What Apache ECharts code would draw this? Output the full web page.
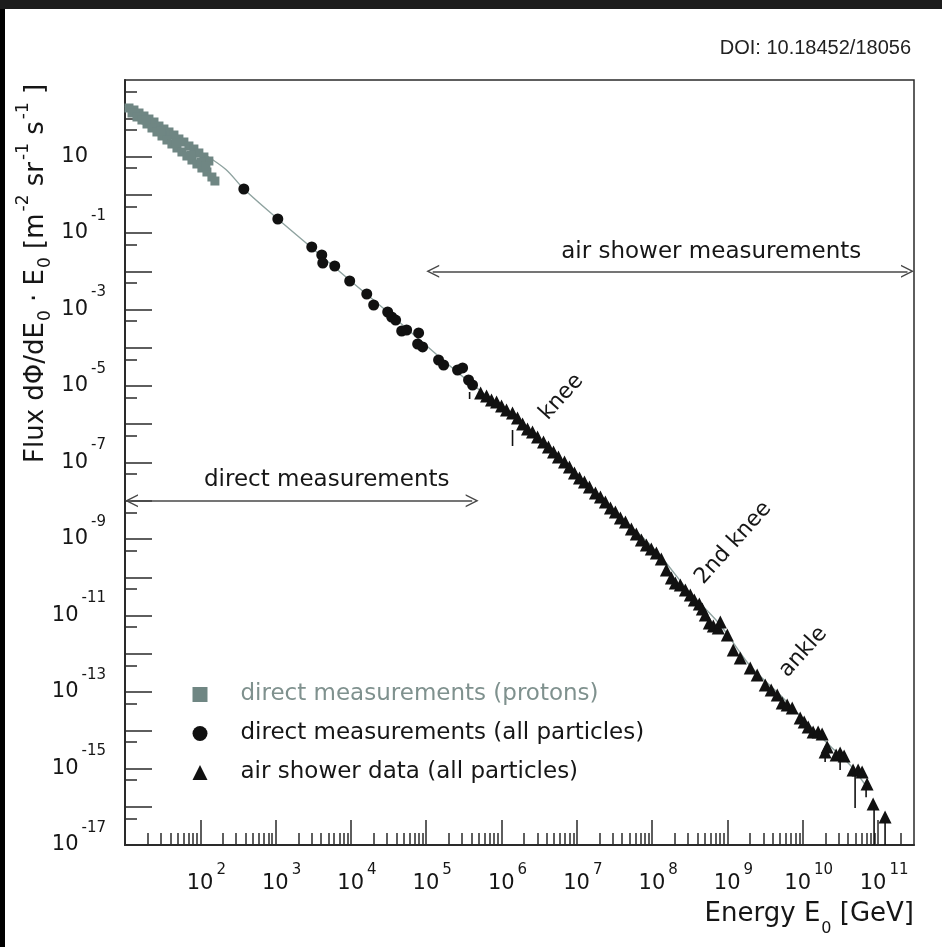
<!DOCTYPE html>
<html><head><meta charset="utf-8">
<script src="https://cdn.jsdelivr.net/npm/echarts@6/dist/echarts.min.js"></script>
<style>
html,body{margin:0;padding:0;background:#fff;}
#chart{width:942px;height:947px;}
#barL{position:absolute;left:0;top:0;width:5px;height:947px;background:#000;}
#barT{position:absolute;left:0;top:0;width:942px;height:9px;background:#1c1c1c;}
</style></head>
<body>
<div id="chart"></div><div id="barL"></div><div id="barT"></div>
<script>
// ---- values (log10 of energy in GeV, log10 of flux) ----
const protonLogE = [1.053,1.119,1.186,1.252,1.318,1.385,1.451,1.517,1.584,1.650,1.716,1.782,1.849,1.915,1.981,2.048,2.114,
  1.093,1.159,1.225,1.292,1.358,1.424,1.491,1.557,1.623,1.690,1.756,1.822,1.889,1.955,2.021,2.088,2.154,2.194,
  1.279,1.477,1.676,1.875,2.008,2.074];
const protonLogFlux = [2.268,2.216,2.137,2.059,1.980,1.902,1.797,1.719,1.641,1.562,1.458,1.379,1.275,1.196,1.092,0.987,0.882,
  2.137,2.033,1.954,1.850,1.745,1.641,1.536,1.431,1.327,1.222,1.118,1.013,0.908,0.804,0.699,0.595,0.464,0.359,
  1.954,1.667,1.353,1.039,0.856,0.752];

const directLogE = [2.578,3.029,3.480,3.613,3.626,3.785,3.984,4.210,4.302,4.488,4.541,4.594,4.674,4.740,4.899,4.886,4.952,5.164,5.231,5.416,5.483,5.562,5.615];
const directLogFlux = [0.150,-0.634,-1.366,-1.575,-1.784,-1.863,-2.255,-2.595,-2.882,-3.065,-3.196,-3.275,-3.562,-3.536,-3.614,-3.902,-3.980,-4.320,-4.451,-4.582,-4.529,-4.843,-4.974];

const showerLogE = [5.722,5.801,5.867,5.934,6.000,6.066,6.146,6.212,6.279,6.345,6.411,6.478,6.557,6.623,6.690,6.756,6.836,6.902,6.968,7.035,7.101,7.167,7.247,7.313,7.379,7.446,7.512,7.578,7.645,7.724,7.790,7.857,7.923,7.989,8.056,8.122,
  8.189,8.255,8.308,8.374,8.441,8.507,8.560,8.626,8.666,8.706,8.759,8.812,8.878,8.905,8.998,9.077,9.170,9.303,9.395,9.502,9.581,9.661,9.727,9.793,9.860,9.966,10.019,10.072,10.138,10.204,10.257,10.324,10.297,10.443,10.496,10.549,10.668,10.735,10.788,10.854,10.934,11.093];
const showerLogFlux = [-5.183,-5.261,-5.366,-5.418,-5.523,-5.627,-5.706,-5.837,-5.994,-6.124,-6.203,-6.333,-6.464,-6.595,-6.726,-6.856,-6.987,-7.118,-7.275,-7.405,-7.510,-7.641,-7.797,-7.902,-8.033,-8.190,-8.294,-8.451,-8.556,-8.739,-8.869,-9.026,-9.157,-9.261,-9.366,-9.523,
  -9.810,-10.020,-10.150,-10.203,-10.333,-10.464,-10.595,-10.699,-10.830,-10.987,-11.196,-11.275,-11.327,-11.170,-11.510,-11.902,-12.111,-12.373,-12.556,-12.817,-12.948,-13.079,-13.288,-13.340,-13.418,-13.680,-13.784,-13.915,-14.046,-14.046,-14.098,-14.438,-14.569,-14.647,-14.595,-14.673,-15.039,-15.039,-15.092,-15.405,-15.928,-16.268];

const modelLogE = [1.0,1.345,1.676,2.008,2.340,2.578,3.029,3.467,3.997,4.488,5.191,5.589,6.080,6.557,6.782,7.313,7.843,8.109,8.507,8.905,9.302,9.700,9.966,10.363,10.629,10.841];
const modelLogFlux = [2.31,1.928,1.536,1.118,0.660,0.150,-0.634,-1.366,-2.255,-3.065,-4.268,-4.922,-5.680,-6.516,-6.935,-7.980,-8.895,-9.445,-10.412,-11.248,-12.320,-13.079,-13.628,-14.412,-14.909,-15.458];

const errLogE = [5.576,6.146,10.297,10.496,10.695,10.841,10.947,11.093];
const errLogLow = [-5.340,-6.569,-14.830,-15.039,-16.033,-15.750,-17,-17];
const errLogHigh = [-5.157,-6.150,-14.569,-14.647,-15.039,-15.500,-15.954,-16.268];

const seriesNames = ['direct measurements (protons)','direct measurements (all particles)','air shower data (all particles)'];
const xLabelExp = [2,3,4,5,6,7,8,9,10,11];
const xMajorExp = [2,3,4,5,6,7,8,9,10,11];
const xMinorExp = [1,2,3,4,5,6,7,8,9,10,11];
const xMinorMult = [2,3,4,5,6,7,8,9];
const yLabelExp = [-17,-15,-13,-11,-9,-7,-5,-3,-1,1];
const yMajorExp = [-16,-15,-14,-13,-12,-11,-10,-9,-8,-7,-6,-5,-4,-3,-2,-1,0,1,2];
const yMinorExp = [-17,-16,-15,-14,-13,-12,-11,-10,-9,-8,-7,-6,-5,-4,-3,-2,-1,0,1,2];
const yMinorMult = [5];

// ---- build ----
const pw = (n) => Number('1e' + n);
const p10 = (e) => Math.pow(10, e);
const toPts = (xs, ys) => xs.map((e, i) => [p10(e), p10(ys[i])]);
const xMax = 3e11;
const xMajor = xMajorExp.map(pw);
const xLabels = xLabelExp.map(pw);
const xMinor = [];
xMinorExp.forEach(n => xMinorMult.forEach(m => { const v = Number(m + 'e' + n); if (v < 2.9e11) xMinor.push(v); }));
const yMajor = yMajorExp.map(pw);
const yLabels = yLabelExp.map(pw);
const yMinor = [];
yMinorExp.forEach(n => yMinorMult.forEach(m => yMinor.push(Number(m + 'e' + n))));
const errData = errLogE.map((e, i) => [p10(e), p10(errLogLow[i]), p10(errLogHigh[i])]);

const FONT = 'DejaVu Sans';
const AX = '#2a2a2a';
const TXT = '#161616';
const GRAYTEAL = '#6f8683';
const CHEV = 'path://M0,100 L50,0 L100,100 L88,100 L50,24 L12,100 Z';

const expOf = v => Math.round(Math.log10(v));
const xRich = {
  b: {fontSize: 21, fontFamily: FONT, color: TXT, lineHeight: 22, padding: [0, 0, 0, 12]},
  e: {fontSize: 15, fontFamily: FONT, color: TXT, lineHeight: 15, padding: [0, 0, 28, 3]}
};
const yRich = {
  b: {fontSize: 21, fontFamily: FONT, color: TXT, lineHeight: 22},
  e: {fontSize: 15, fontFamily: FONT, color: TXT, lineHeight: 15, padding: [0, 0, 34, 3]},
  h: {fontSize: 15, fontFamily: FONT, color: 'rgba(0,0,0,0)', lineHeight: 15, padding: [0, 0, 34, 3]}
};

const baseX = {type: 'log', logBase: 10, min: 10, max: xMax, position: 'bottom', gridIndex: 0,
  splitLine: {show: false}, minorTick: {show: false}, minorSplitLine: {show: false}};
const baseY = {type: 'log', logBase: 10, min: 1e-17, max: 1e3, position: 'left', gridIndex: 0,
  splitLine: {show: false}, minorTick: {show: false}, minorSplitLine: {show: false}};

const chart = echarts.init(document.getElementById('chart'), null, {renderer: 'canvas'});
chart.setOption({
  animation: false,
  backgroundColor: '#ffffff',
  textStyle: {fontFamily: FONT},
  title: {text: 'DOI: 10.18452/18056', right: 31, top: 38, padding: 0,
    textStyle: {fontFamily: 'Liberation Sans', fontSize: 20, fontWeight: 'normal', color: '#222'}},
  grid: {left: 125, right: 28, top: 80, bottom: 102, show: true, borderColor: AX, borderWidth: 1.5, backgroundColor: 'transparent'},
  legend: {
    orient: 'vertical', left: 187.5, top: 678, itemWidth: 15, itemHeight: 15, itemGap: 16,
    selectedMode: false,
    textStyle: {fontSize: 23, fontFamily: FONT, color: TXT, padding: [0, 0, 0, 28]},
    data: [
      {name: seriesNames[0], icon: 'rect', itemStyle: {color: GRAYTEAL, opacity: 1}, textStyle: {color: '#7f918e'}},
      {name: seriesNames[1], icon: 'circle', itemStyle: {color: '#111', opacity: 1}},
      {name: seriesNames[2], icon: 'triangle', itemStyle: {color: '#111', opacity: 1}}
    ]
  },
  xAxis: [
    Object.assign({}, baseX, {
      axisLine: {show: true, onZero: false, lineStyle: {color: AX, width: 2}},
      axisTick: {show: true, inside: true, length: 25, customValues: xMajor, lineStyle: {color: AX, width: 1.5}},
      axisLabel: {show: true, customValues: xLabels, margin: 28, formatter: v => '{b|10}{e|' + expOf(v) + '}', rich: xRich}
    }),
    Object.assign({}, baseX, {
      axisLine: {show: false},
      axisTick: {show: true, inside: true, length: 12, customValues: xMinor, lineStyle: {color: AX, width: 1.5}},
      axisLabel: {show: false}
    })
  ],
  yAxis: [
    Object.assign({}, baseY, {
      axisLine: {show: true, onZero: false, lineStyle: {color: AX, width: 2}},
      axisTick: {show: true, inside: true, length: 27, customValues: yMajor, lineStyle: {color: AX, width: 1.5}},
      axisLabel: {show: true, customValues: yLabels, margin: 19,
        formatter: v => { const n = expOf(v); return n === 1 ? '{b|10}{h|-1}' : '{b|10}{e|' + n + '}'; }, rich: yRich}
    }),
    Object.assign({}, baseY, {
      axisLine: {show: false},
      axisTick: {show: true, inside: true, length: 12, customValues: yMinor, lineStyle: {color: AX, width: 1.5}},
      axisLabel: {show: false}
    })
  ],
  graphic: [
    {type: 'text', x: 36, y: 463, rotation: Math.PI / 2, silent: true,
      style: {
        text: '{a|Flux d\u03A6/dE}{s|0}{a| \u00B7 E}{s|0}{a| [m}{u|-2}{a| sr}{u|-1}{a| s}{u|-1}{a| ]}',
        fill: TXT, fontFamily: FONT, fontSize: 26, align: 'left', verticalAlign: 'middle',
        rich: {
          a: {fontFamily: FONT, fontSize: 26, lineHeight: 26, fill: TXT},
          s: {fontFamily: FONT, fontSize: 17, lineHeight: 17, fill: TXT, padding: [20, 0, 0, 1]},
          u: {fontFamily: FONT, fontSize: 17, lineHeight: 17, fill: TXT, padding: [0, 0, 24, 2]}
        }
      }},
    {type: 'text', right: 28, top: 891, silent: true,
      style: {
        text: '{a|Energy E}{s|0}{a| [GeV]}',
        fill: TXT, fontFamily: FONT, fontSize: 26,
        rich: {
          a: {fontFamily: FONT, fontSize: 26, lineHeight: 26, fill: TXT},
          s: {fontFamily: FONT, fontSize: 16, lineHeight: 16, fill: TXT, padding: [30, 0, 0, 1]}
        }
      }}
  ],
  series: [
    {
      name: 'model', type: 'line', data: toPts(modelLogE, modelLogFlux), smooth: 0.3, symbol: 'none',
      lineStyle: {color: '#8fa3a0', width: 1.4}, z: 1, silent: true,
      markLine: {
        silent: true, symbol: [CHEV, CHEV], symbolSize: 13,
        lineStyle: {color: '#474747', width: 1.5, type: 'solid'},
        label: {show: false},
        data: [
          [{coord: [p10(5.086), 1e-2]}, {coord: [p10(11.391), 1e-2]}],
          [{coord: [p10(1.086), 1e-8]}, {coord: [p10(5.61), 1e-8]}]
        ]
      },
      markPoint: {
        silent: true, symbol: 'circle', symbolSize: 1, itemStyle: {color: 'rgba(0,0,0,0)'},
        label: {show: true, position: 'inside', color: TXT, fontSize: 23, fontFamily: FONT, formatter: '{b}'},
        data: [
          {name: 'air shower measurements', coord: [p10(8.785), p10(-1.497)]},
          {name: 'direct measurements', coord: [p10(3.679), p10(-7.458)]},
          {name: 'knee', coord: [p10(6.796), p10(-5.288)], label: {rotate: 48, fontSize: 22}},
          {name: '2nd knee', coord: [p10(9.077), p10(-9.105)], label: {rotate: 48, fontSize: 22}},
          {name: 'ankle', coord: [p10(10.006), p10(-11.954)], label: {rotate: 48, fontSize: 22}}
        ]
      }
    },
    {name: seriesNames[0], type: 'scatter', symbol: 'rect', symbolSize: 9, itemStyle: {color: GRAYTEAL, opacity: 1},
      data: toPts(protonLogE, protonLogFlux), z: 2},
    {name: seriesNames[1], type: 'scatter', symbol: 'circle', symbolSize: 11, itemStyle: {color: '#111', opacity: 1},
      data: toPts(directLogE, directLogFlux), z: 3},
    {name: seriesNames[2], type: 'scatter', symbol: 'triangle', symbolSize: 13, itemStyle: {color: '#111', opacity: 1},
      data: toPts(showerLogE, showerLogFlux), z: 3},
    {name: 'error bars', type: 'custom', data: errData, z: 4, silent: true,
      encode: {x: 0, y: [1, 2]},
      renderItem: (params, api) => {
        const p1 = api.coord([api.value(0), api.value(1)]);
        const p2 = api.coord([api.value(0), api.value(2)]);
        return {type: 'line', shape: {x1: p1[0], y1: p1[1], x2: p2[0], y2: p2[1]}, style: {stroke: '#111', lineWidth: 1.6}};
      }}
  ]
});
</script>
</body></html>
